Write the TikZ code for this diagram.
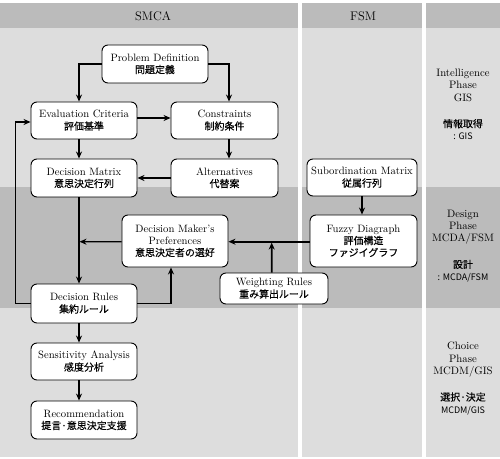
\documentclass[tikz,border=0pt]{standalone}
\usepackage{fontspec}
\newfontfamily\jp[FakeBold=0.3]{Noto Sans CJK JP}
\newfontfamily\jplain{Noto Sans CJK JP}
\usetikzlibrary{arrows.meta}
\definecolor{hdr}{RGB}{187,187,187}
\definecolor{lightrow}{RGB}{221,221,221}
\definecolor{darkrow}{RGB}{187,187,187}
\tikzset{
  box/.style={draw, line width=0.9bp, rounded corners=6bp, fill=white, align=center,
    font=\fontsize{10.7}{12}\selectfont, inner sep=0pt},
  arr/.style={-{Stealth[length=7bp,width=6bp]}, line width=1.2bp},
  thickarr/.style={-{Stealth[length=7bp,width=6bp]}, line width=1.8bp},
  phase/.style={align=center, font=\fontsize{10.8}{12.3}\selectfont, inner sep=0pt},
  hdrtext/.style={font=\fontsize{12.5}{14}\selectfont, inner sep=0pt}
}
\newcommand\jpt[1]{{\jp\fontsize{10}{12}\selectfont #1}}
\newcommand\jps[1]{{\jplain\fontsize{9}{12}\selectfont #1}}
\begin{document}
\begin{tikzpicture}[x=1bp,y=-1bp]
\useasboundingbox (0,0) rectangle (500,459);
% column backgrounds
\foreach \xa/\xb in {0/297.7, 301.7/422.3, 426/500}{
  \fill[hdr] (\xa,3) rectangle (\xb,28);
  \fill[lightrow] (\xa,28) rectangle (\xb,187);
  \fill[darkrow] (\xa,187) rectangle (\xb,308);
  \fill[lightrow] (\xa,308) rectangle (\xb,457);
}
\node[hdrtext] (hsmca) at (153,16) {SMCA};
\node[hdrtext] (hfsm) at (363,16) {FSM};

% phase labels
\node[phase] (ph1) at (463,104.5) {Intelligence\\Phase\\GIS\\[14bp]\jpt{情報取得}\\\jps{: GIS}};
\node[phase] (ph2) at (463,246) {Design\\Phase\\MCDA/FSM\\[14bp]\jpt{設計}\\\jps{: MCDA/FSM}};
\node[phase] (ph3) at (463,378.5) {Choice\\Phase\\MCDM/GIS\\[14bp]\jpt{選択·決定}\\\jps{MCDM/GIS}};

% boxes
\node[box, minimum width=106bp, minimum height=38bp] (pd) at (155,64) {Problem Definition\\\jpt{問題定義}};
\node[box, minimum width=106bp, minimum height=37bp] (ec) at (84,120.5) {Evaluation Criteria\\\jpt{評価基準}};
\node[box, minimum width=107bp, minimum height=37bp] (cs) at (224.5,120.5) {Constraints\\\jpt{制約条件}};
\node[box, minimum width=106bp, minimum height=38bp] (dm) at (84,178) {Decision Matrix\\\jpt{意思決定行列}};
\node[box, minimum width=107bp, minimum height=38bp] (al) at (224.5,178) {Alternatives\\\jpt{代替案}};
\node[box, minimum width=110bp, minimum height=37bp] (sm) at (362,177.5) {Subordination Matrix\\\jpt{従属行列}};
\node[box, minimum width=106bp, minimum height=52bp] (dmp) at (175,241) {Decision Maker's\\Preferences\\\jpt{意思決定者の選好}};
\node[box, minimum width=107bp, minimum height=52bp] (fd) at (363.5,241) {Fuzzy Diagraph\\\jpt{評価構造}\\\jpt{ファジイグラフ}};
\node[box, minimum width=108bp, minimum height=31bp] (wr) at (274,288.5) {Weighting Rules\\\jpt{重み算出ルール}};
\node[box, minimum width=106bp, minimum height=39bp] (dr) at (84,303.5) {Decision Rules\\\jpt{集約ルール}};
\node[box, minimum width=106bp, minimum height=37bp] (sa) at (84,361.5) {Sensitivity Analysis\\\jpt{感度分析}};
\node[box, minimum width=106bp, minimum height=38bp] (rec) at (84,420) {Recommendation\\\jpt{提言·意思決定支援}};

% connectors
\draw[arr] (pd.west) -| ([xshift=-5bp]ec.north);
\draw[arr] (pd.east) -| ([xshift=4.5bp]cs.north);
\draw[arr] ([yshift=2.5bp]ec.east) -- ([yshift=2.5bp]cs.west);
\draw[arr] ([xshift=-5bp]ec.south) -- ([xshift=-5bp]dm.north);
\draw[arr] ([xshift=4.5bp]cs.south) -- ([xshift=4.5bp]al.north);
\draw[arr] (al.west) -- (dm.east);
\draw[arr] ([xshift=-5bp]dm.south) -- ([xshift=-5bp]dr.north);
\coordinate (spine) at (79.5,241.7);
\draw[arr] ([yshift=-0.7bp]dmp.west) -- (spine);
\draw[arr] (dr.east) -| ([xshift=-4bp]dmp.south);
\draw[arr] (dr.west) -- ++(-15,0) |- ([yshift=-1.5bp]ec.west);
\draw[thickarr] ([yshift=-0.7bp]fd.west) -- ([yshift=-0.7bp]dmp.east);
\coordinate (junc) at (271.7,242.6);
\draw[thickarr] ([xshift=-2.3bp]wr.north) -- (junc);
\draw[arr] (sm.south) -- (sm.south |- fd.north);
\draw[arr] ([xshift=-5bp]dr.south) -- ([xshift=-5bp]sa.north);
\draw[arr] ([xshift=-5bp]sa.south) -- ([xshift=-5bp]rec.north);
\end{tikzpicture}
\end{document}
